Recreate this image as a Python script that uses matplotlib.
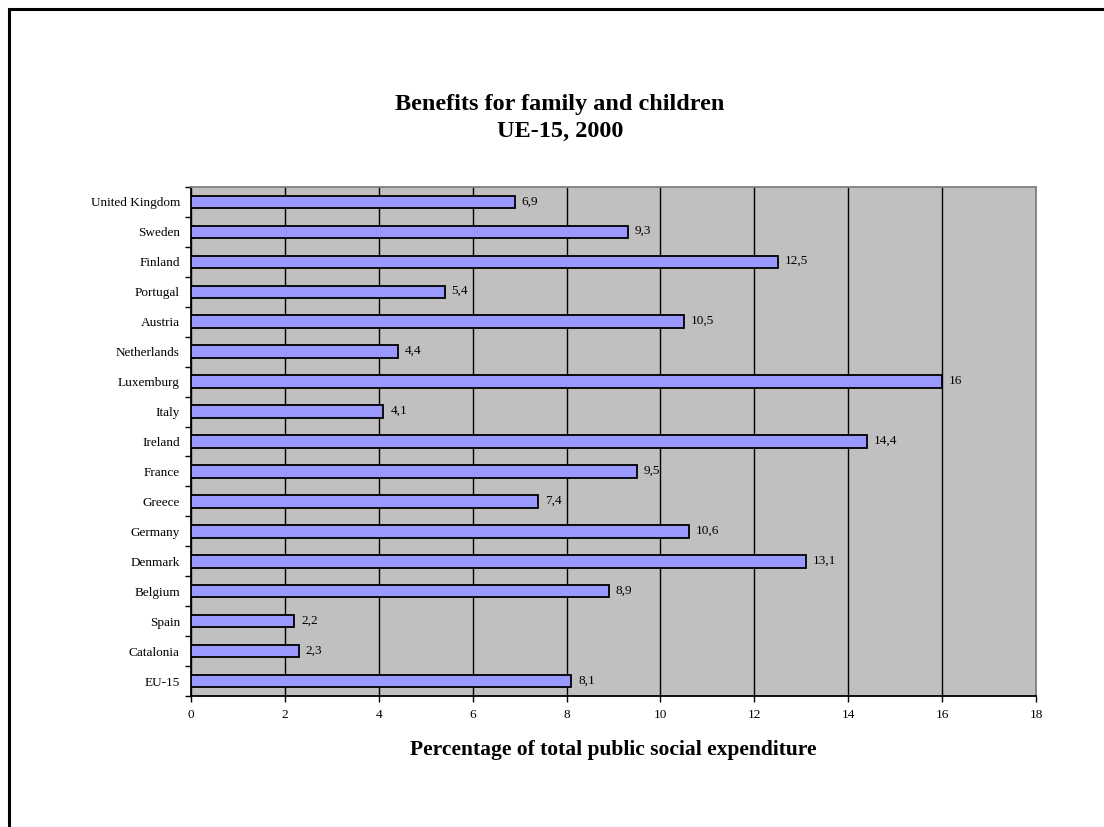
import matplotlib
matplotlib.use("Agg")
import matplotlib.pyplot as plt
from matplotlib.patches import Rectangle

countries = ["United Kingdom", "Sweden", "Finland", "Portugal", "Austria",
             "Netherlands", "Luxemburg", "Italy", "Ireland", "France", "Greece",
             "Germany", "Denmark", "Belgium", "Spain", "Catalonia", "EU-15"]
values = [6.9, 9.3, 12.5, 5.4, 10.5, 4.4, 16, 4.1, 14.4, 9.5, 7.4,
          10.6, 13.1, 8.9, 2.2, 2.3, 8.1]
value_labels = ["6,9", "9,3", "12,5", "5,4", "10,5", "4,4", "16", "4,1",
                "14,4", "9,5", "7,4", "10,6", "13,1", "8,9", "2,2", "2,3", "8,1"]
x_ticks = [0, 2, 4, 6, 8, 10, 12, 14, 16, 18]

plt.rcParams["font.family"] = ["Liberation Serif", "DejaVu Serif"]

W, H = 1104, 827
fig = plt.figure(figsize=(W / 100, H / 100), dpi=100)

# outer chart frame (left and top edges visible)
fig.patches.append(Rectangle((8.5 / W, -0.1), 1.2, 1 - 8.5 / H + 0.1,
                             transform=fig.transFigure, fill=False,
                             edgecolor="black", linewidth=2.2))

left, right, top, bottom = 191, 1036, 187, 696
ax = fig.add_axes([left / W, 1 - bottom / H, (right - left) / W, (bottom - top) / H])
ax.set_facecolor("#C0C0C0")

n = len(countries)
ypos = list(range(n))[::-1]
ax.barh(ypos, values, height=0.42, color="#9999FF", edgecolor="black",
        linewidth=1.3, zorder=3)
for y, v, lab in zip(ypos, values, value_labels):
    ax.annotate(lab, (v, y), xytext=(5, 0.5), textcoords="offset points",
                va="center", ha="left", fontsize=9.5, zorder=4)

ax.set_xlim(0, 18)
ax.set_ylim(-0.5, n - 0.5)
ax.set_xticks(x_ticks)
ax.set_xticklabels([str(t) for t in x_ticks], fontsize=9.5)
ax.set_yticks(ypos)
ax.set_yticklabels(countries, fontsize=9.5)
ax.set_yticks([i + 0.5 for i in range(-1, n)], minor=True)
ax.tick_params(axis="y", which="major", length=0, pad=8)
ax.tick_params(axis="y", which="minor", length=4, width=1, direction="out")
ax.tick_params(axis="x", which="major", length=4, width=1, direction="out", pad=5)

ax.grid(axis="x", color="black", linewidth=1.0, zorder=1)
ax.set_axisbelow(True)

for s in ["left", "bottom"]:
    ax.spines[s].set_color("black")
    ax.spines[s].set_linewidth(1.3)
for s in ["right", "top"]:
    ax.spines[s].set_color("#808080")
    ax.spines[s].set_linewidth(1.3)

ax.set_xlabel("Percentage of total public social expenditure", fontsize=15.5,
              fontweight="bold", labelpad=14)

fig.text(560 / W, 1 - 118 / H, "Benefits for family and children\nUE-15, 2000",
         ha="center", va="center", fontsize=17.5, fontweight="bold", linespacing=1.35)

fig.savefig("out.png", dpi=100, facecolor="white")
